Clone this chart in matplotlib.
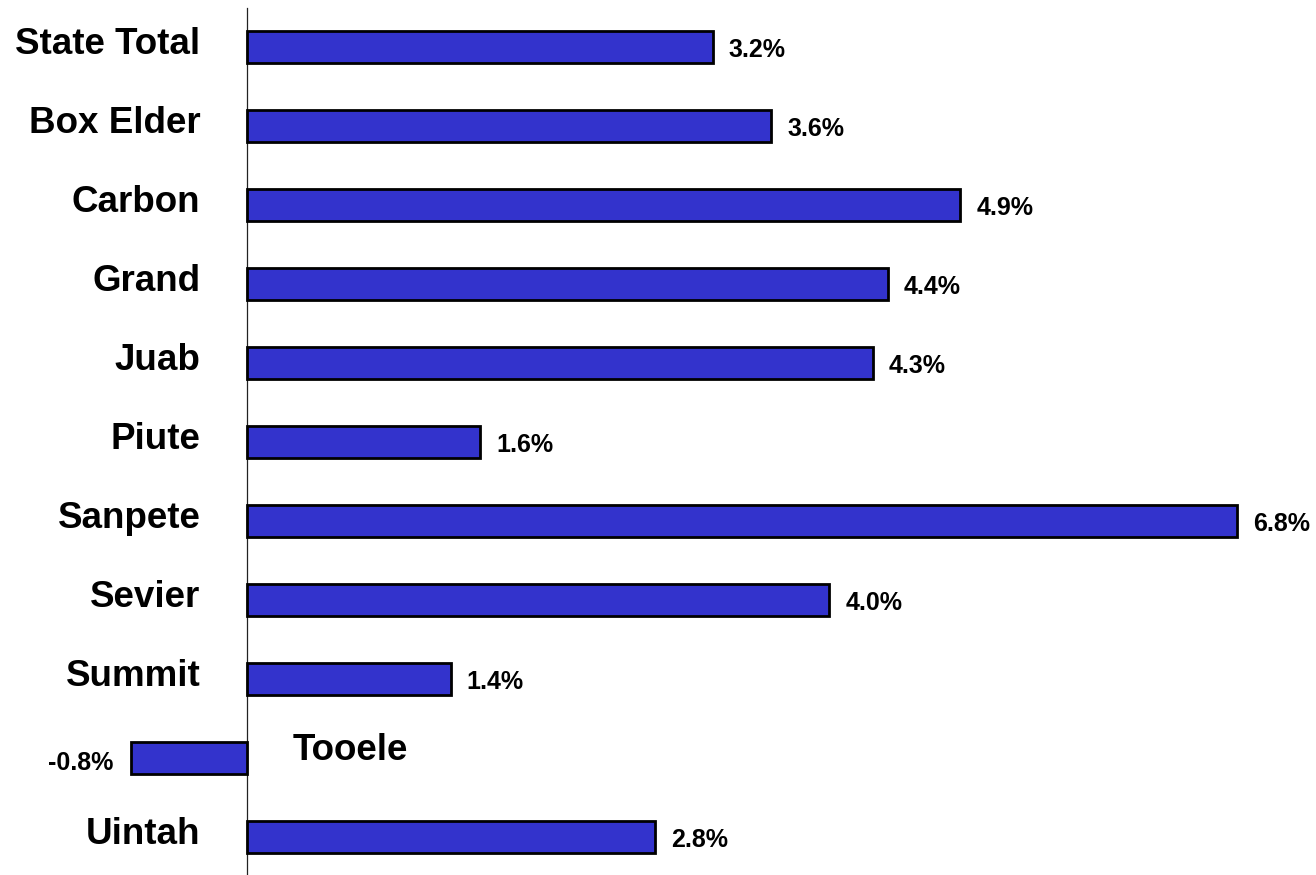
import matplotlib
matplotlib.use('Agg')
import matplotlib.pyplot as plt

counties = ['State Total', 'Box Elder', 'Carbon', 'Grand', 'Juab', 'Piute',
            'Sanpete', 'Sevier', 'Summit', 'Tooele', 'Uintah']
growth = [3.2, 3.6, 4.9, 4.4, 4.3, 1.6, 6.8, 4.0, 1.4, -0.8, 2.8]
value_labels = ['3.2%', '3.6%', '4.9%', '4.4%', '4.3%', '1.6%',
                '6.8%', '4.0%', '1.4%', '-0.8%', '2.8%']

plt.rcParams['font.family'] = ['Liberation Sans', 'DejaVu Sans']

fig = plt.figure(figsize=(13.16, 8.75), dpi=100)
ax = fig.add_axes([0, 0, 1, (875 - 8) / 875])

ypos = list(range(len(counties)))
ax.barh(ypos, growth, height=0.41, color='#3333CC', edgecolor='black',
        linewidth=2.0, zorder=3)

ax.set_xlim(-247 / 145.6, (1316 - 247) / 145.6)
ax.set_ylim(10.48, -0.494)

for s in ['top', 'right', 'bottom']:
    ax.spines[s].set_visible(False)
ax.spines['left'].set_position(('data', 0))
ax.spines['left'].set_linewidth(0.9)
ax.spines['left'].set_color('#222222')
ax.set_xticks([])
ax.set_yticks([])

for y, v, lab, name in zip(ypos, growth, value_labels, counties):
    if v >= 0:
        ax.text(v + 0.11, y + 0.04, lab, ha='left', va='center',
                fontsize=18, fontweight='bold')
        ax.text(-0.32, y - 0.03, name, ha='right', va='center',
                fontsize=26.5, fontweight='bold')
    else:
        ax.text(v - 0.12, y + 0.06, lab, ha='right', va='center',
                fontsize=18, fontweight='bold')
        ax.text(0.31, y - 0.09, name, ha='left', va='center',
                fontsize=26.5, fontweight='bold')

fig.savefig('out.png', dpi=100)
